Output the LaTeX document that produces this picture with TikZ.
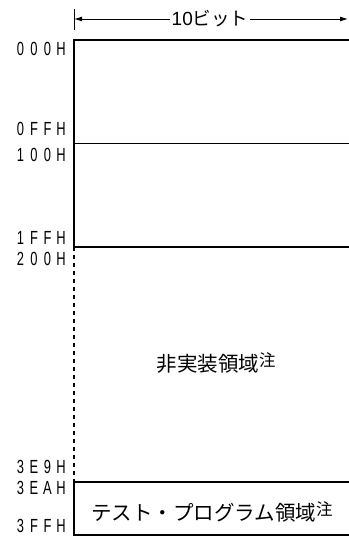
\documentclass[tikz,border=0pt]{standalone}
\usepackage{fontspec}
\setmainfont{Liberation Sans}
\newfontfamily\jpfont{Noto Sans CJK JP}
\usetikzlibrary{arrows.meta}
\newcommand\adch[1]{\makebox[13.5pt][c]{\scalebox{0.68}[1]{#1}}}
\newcommand\addr[4]{\adch{#1}\adch{#2}\adch{#3}\adch{#4}}
\newcommand\chu{\raisebox{5.5pt}{\jpfont\fontsize{16.5}{16.5}\selectfont 注}}
\begin{document}
\begin{tikzpicture}[x=1pt,y=-1pt,
  thickline/.style={line width=2.6pt},
  thinline/.style={line width=0.9pt},
  midline/.style={line width=1.4pt},
  dotline/.style={line width=2.6pt,dash pattern=on 4pt off 4pt},
  addrlabel/.style={anchor=east,inner sep=0pt,font=\fontsize{19}{19}\selectfont},
  jptext/.style={inner sep=0pt,font=\jpfont\fontsize{20.5}{20.5}\selectfont},
  dimarrow/.style={line width=0.9pt,{Latex[length=8pt,width=5pt]}-{Latex[length=8pt,width=5pt]}}]
\useasboundingbox (0,0) rectangle (348,537);
% coordinates
\coordinate (tl) at (74,40);   \coordinate (tr) at (352,40);
\coordinate (m1l) at (74,143); \coordinate (m1r) at (352,143);
\coordinate (m2l) at (74,247); \coordinate (m2r) at (352,247);
\coordinate (bl) at (74,482);  \coordinate (br) at (352,482);
\coordinate (bbl) at (74,535); \coordinate (bbr) at (352,535);
\coordinate (tickt) at (74,9); \coordinate (tickb) at (74,30);
\coordinate (al) at (74,19);   \coordinate (ar) at (348,19);
% dimension
\draw[thinline] (tickt) -- (tickb);
\draw[dimarrow] (al) -- (ar);
\node[jptext,fill=white,inner xsep=2pt,inner ysep=1pt,font=\jpfont\fontsize{18.5}{18.5}\selectfont] (bits) at (210,19)
  {{\fontspec{Liberation Sans}\fontsize{19}{19}\selectfont 10}ビット};
% frame
\draw[thickline] (m2l) -- (tl) -- (tr);
\draw[thinline] (m1l) -- (m1r);
\draw[thickline] (m2l) -- (m2r);
\draw[dotline] (m2l) -- (bl);
\draw[midline] (bl) -- (br);
\draw[thickline] (bl) -- (bbl) -- (bbr);
% address labels
\node[addrlabel] (a000) at (68,49)  {\addr 000H};
\node[addrlabel] (a0ff) at (68,129) {\addr 0FFH};
\node[addrlabel] (a100) at (68,155) {\addr 100H};
\node[addrlabel] (a1ff) at (68,238) {\addr 1FFH};
\node[addrlabel] (a200) at (68,259) {\addr 200H};
\node[addrlabel] (a3e9) at (68,467) {\addr 3E9H};
\node[addrlabel] (a3ea) at (68,488) {\addr 3EAH};
\node[addrlabel] (a3ff) at (68,526) {\addr 3FFH};
% area texts
\node[jptext] (unimpl) at (216,363) {非実装領域\chu};
\node[jptext,anchor=west] (test) at (91,512) {テスト・プログラム領域\chu};
\end{tikzpicture}
\end{document}
